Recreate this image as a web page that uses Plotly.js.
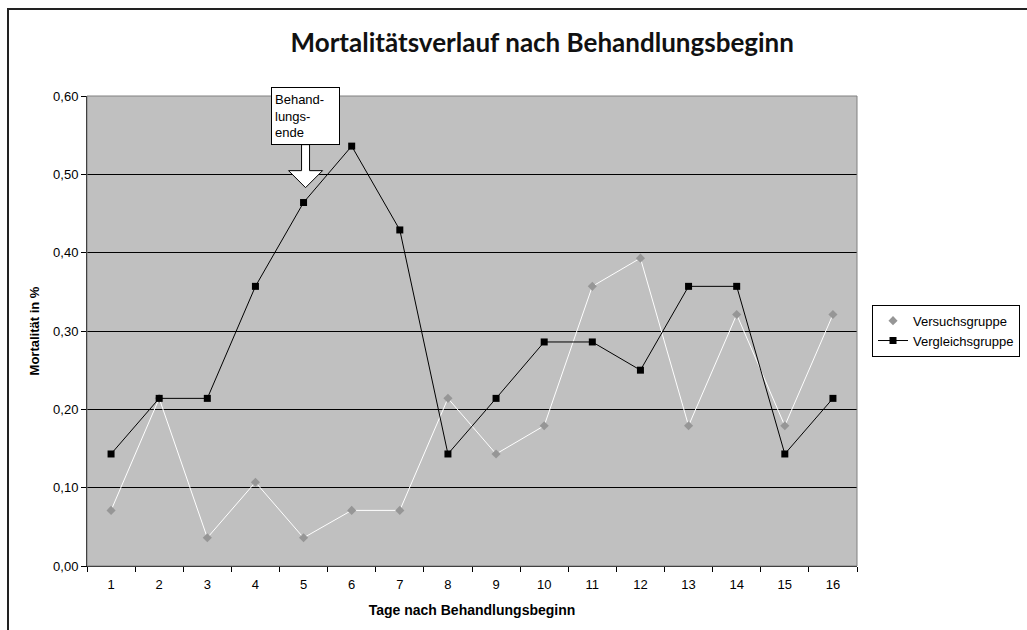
<!DOCTYPE html>
<html>
<head>
<meta charset="utf-8">
<script src="https://cdn.plot.ly/plotly-3.0.1.min.js"></script>
<style>
html,body{margin:0;padding:0;background:#fff;}
#wrap{position:relative;width:1027px;height:630px;}
#chart{width:1027px;height:630px;}
#frame{position:absolute;left:7px;top:8px;width:1040px;height:640px;border-left:2px solid #222;border-top:2px solid #222;pointer-events:none;}
</style>
</head>
<body>
<div id="wrap"><div id="chart"></div><div id="frame"></div></div>
<script>
const days = ['1','2','3','4','5','6','7','8','9','10','11','12','13','14','15','16'];
const versuchsgruppe = [0.071,0.214,0.036,0.107,0.036,0.071,0.071,0.214,0.143,0.179,0.357,0.393,0.179,0.321,0.179,0.321];
const vergleichsgruppe = [0.143,0.214,0.214,0.357,0.464,0.536,0.429,0.143,0.214,0.286,0.286,0.25,0.357,0.357,0.143,0.214];
const yTicks = [0,0.1,0.2,0.3,0.4,0.5,0.6];
const arrowDay = '5';
const arrowTipValue = 0.483;
const arrowLabel = 'Behand-<br>lungs-<br>ende';

const font = 'Liberation Sans, Arial, sans-serif';

const traces = [
  {
    x: days, y: versuchsgruppe, name: 'Versuchsgruppe', type: 'scatter', mode: 'lines+markers',
    line: {color: '#ffffff', width: 1},
    marker: {symbol: 'diamond', size: 7, color: '#969696'}
  },
  {
    x: days, y: vergleichsgruppe, name: 'Vergleichsgruppe', type: 'scatter', mode: 'lines+markers',
    line: {color: '#000000', width: 1},
    marker: {symbol: 'square', size: 7, color: '#000000'}
  }
];

const layout = {
  width: 1027, height: 630,
  margin: {l: 87, r: 170, t: 96, b: 64, autoexpand: false},
  paper_bgcolor: '#ffffff',
  plot_bgcolor: '#c0c0c0',
  separators: ',.',
  font: {family: font, size: 13, color: '#000'},
  title: {
    text: '<b>Mortalitätsverlauf nach Behandlungsbeginn</b>',
    font: {family: 'Lato, sans-serif', size: 26, color: '#111'},
    x: 0.528, xanchor: 'center', xref: 'container',
    y: 0.932, yanchor: 'middle', yref: 'container'
  },
  xaxis: {
    type: 'category',
    range: [-0.5, days.length - 0.5],
    tickson: 'boundaries',
    ticks: 'outside', ticklen: 5, tickcolor: '#000', tickwidth: 1,
    ticklabelstandoff: 6,
    showline: true, linecolor: '#000', linewidth: 1,
    showgrid: false, zeroline: false,
    tickfont: {family: font, size: 13},
    title: {text: '<b>Tage nach Behandlungsbeginn</b>', font: {family: font, size: 14}, standoff: 14},
    fixedrange: true
  },
  yaxis: {
    range: [0, 0.6],
    tickvals: yTicks,
    tickformat: '.2f',
    ticks: 'outside', ticklen: 5, tickcolor: '#000', tickwidth: 1,
    showline: true, linecolor: '#000', linewidth: 1,
    showgrid: true, gridcolor: '#000', gridwidth: 1,
    zeroline: false,
    tickfont: {family: font, size: 13},
    title: {text: '<b>Mortalität in %</b>', font: {family: font, size: 13}, standoff: 10},
    fixedrange: true
  },
  legend: {
    x: 1.0195, xanchor: 'left', y: 0.556, yanchor: 'top',
    bgcolor: '#fff', bordercolor: '#000', borderwidth: 1,
    font: {family: font, size: 13},
    tracegroupgap: 0, itemwidth: 30
  },
  shapes: [
    {type: 'rect', xref: 'paper', yref: 'paper', x0: 0, x1: 1, y0: 0, y1: 1,
     line: {color: '#808080', width: 1}, layer: 'above'},
    {type: 'path', xref: 'x', yref: 'y', xsizemode: 'pixel', ysizemode: 'pixel',
     xanchor: days.indexOf(arrowDay), yanchor: arrowTipValue,
     path: 'M2,0 L-15,17 L-2,17 L-2,43 L6,43 L6,17 L19,17 Z',
     fillcolor: '#ffffff', line: {color: '#000', width: 1}, layer: 'above'}
  ],
  annotations: [
    {x: days.indexOf(arrowDay), y: arrowTipValue, xref: 'x', yref: 'y',
     xshift: 2, yshift: 43, yanchor: 'bottom', xanchor: 'center',
     text: arrowLabel, align: 'left', showarrow: false,
     bgcolor: '#fff', bordercolor: '#000', borderwidth: 1, borderpad: 3,
     width: 61, height: 50,
     font: {family: font, size: 13, color: '#000'}}
  ]
};

Plotly.newPlot('chart', traces, layout, {displayModeBar: false, staticPlot: true});
</script>
</body>
</html>
